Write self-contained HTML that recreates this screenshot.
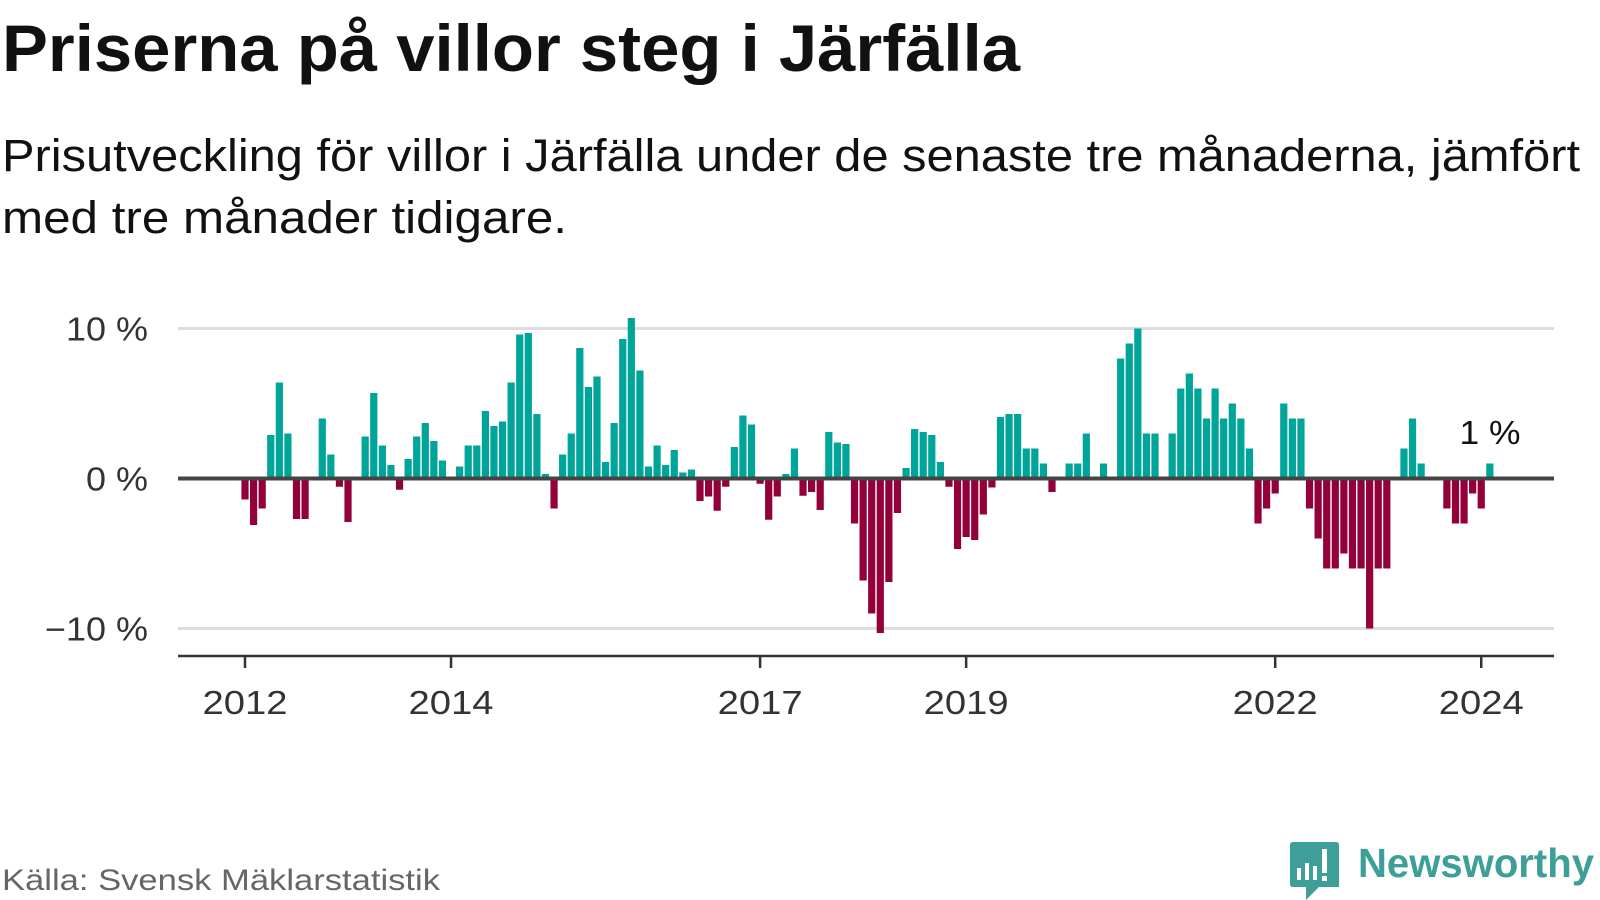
<!DOCTYPE html>
<html><head><meta charset="utf-8"><style>
html,body{margin:0;padding:0;background:#fff;width:1600px;height:900px;overflow:hidden}
svg text{font-family:"Liberation Sans",sans-serif}
</style></head><body>
<svg id="chart" width="1600" height="900" viewBox="0 0 1600 900" xmlns="http://www.w3.org/2000/svg">
<text x="2" y="71" font-size="66" font-weight="bold" fill="#111" textLength="1018" lengthAdjust="spacingAndGlyphs">Priserna på villor steg i Järfälla</text>
<text x="2" y="171" font-size="45" fill="#111" textLength="1578" lengthAdjust="spacingAndGlyphs">Prisutveckling för villor i Järfälla under de senaste tre månaderna, jämfört</text>
<text x="2" y="233" font-size="45" fill="#111" textLength="565" lengthAdjust="spacingAndGlyphs">med tre månader tidigare.</text>
<g id="grid"></g>
<g id="bars"></g>
<g id="axes"></g>
<text x="1490" y="444" font-size="33" fill="#111" text-anchor="middle" textLength="61" lengthAdjust="spacingAndGlyphs">1 %</text>
<text x="2" y="890" font-size="30" fill="#666" textLength="438" lengthAdjust="spacingAndGlyphs">Källa: Svensk Mäklarstatistik</text>
<g>
<path d="M1293 842 H1336 Q1339 842 1339 845 V887 H1319 L1306 900 L1306 887 H1293 Q1290 887 1290 884 V845 Q1290 842 1293 842 Z" fill="#3d9f97"/>
<rect x="1297" y="868" width="4" height="12" fill="#fff"/>
<rect x="1305" y="863" width="4" height="17" fill="#fff"/>
<rect x="1313" y="866" width="4" height="14" fill="#fff"/>
<rect x="1322" y="849" width="5" height="24" fill="#fff"/>
<rect x="1322" y="876" width="5" height="5" fill="#fff"/>
<text x="1358" y="877" font-size="41" font-weight="bold" fill="#3d9f97" textLength="236" lengthAdjust="spacingAndGlyphs">Newsworthy</text>
</g>
</svg>
<script>
const values = [
-1.4,-3.1,-2.0,2.9,6.4,3.0,-2.7,-2.7,0,4.0,1.6,-0.55,
-2.9,0,2.8,5.7,2.2,0.9,-0.75,1.3,2.8,3.7,2.5,1.2,
0,0.8,2.2,2.2,4.5,3.5,3.8,6.4,9.6,9.7,4.3,0.3,
-2.0,1.6,3.0,8.7,6.1,6.8,1.1,3.7,9.3,10.7,7.2,0.8,
2.2,0.9,1.9,0.4,0.6,-1.5,-1.2,-2.15,-0.55,2.1,4.2,3.6,
-0.35,-2.75,-1.2,0.3,2.0,-1.15,-0.9,-2.1,3.1,2.4,2.3,-3.0,
-6.8,-9.0,-10.3,-6.9,-2.3,0.7,3.3,3.1,2.9,1.1,-0.55,-4.7,
-3.9,-4.1,-2.4,-0.6,4.1,4.3,4.3,2.0,2.0,1.0,-0.9,0,
1.0,1.0,3.0,0,1.0,0,8.0,9.0,10.0,3.0,3.0,0,
3.0,6.0,7.0,6.0,4.0,6.0,4.0,5.0,4.0,2.0,-3.0,-2.0,
-1.0,5.0,4.0,4.0,-2.0,-4.0,-6.0,-6.0,-5.0,-6.0,-6.0,-10.0,
-6.0,-6.0,0,2.0,4.0,1.0,0,0,-2.0,-3.0,-3.0,-1.0,
-2.0,1.0
];
const yTicks = [10, 0, -10];
const yTickLabels = ["10 %", "0 %", "\u221210 %"];
const xTickYears = [2012, 2014, 2017, 2019, 2022, 2024];

const NS = "http://www.w3.org/2000/svg";
const X0 = 245, MONTH = 8.585, BW = 7.2;
const Y0 = 478.5, PER = 15;
function xScale(m){ return X0 + MONTH*m; }
function yScale(v){ return Y0 - v*PER; }
function mk(tag, attrs, parent){ const e=document.createElementNS(NS,tag); for(const k in attrs) e.setAttribute(k,attrs[k]); parent.appendChild(e); return e; }

const grid = document.getElementById('grid');
yTicks.forEach((t,i)=>{
  if(t!==0){
    const l = mk('line',{x1:178,x2:1554,y1:yScale(t),y2:yScale(t),stroke:'#dddddd','stroke-width':3},grid);
    
    
  }
  const tx = mk('text',{x:148,y:yScale(t)+12,'font-size':33,fill:'#333','text-anchor':'end'},grid);
  tx.textContent = yTickLabels[i];
  tx.setAttribute('textLength', String(Math.round(yTickLabels[i].length*20.5)));
  tx.setAttribute('lengthAdjust','spacingAndGlyphs');
  
  
});

const bars = document.getElementById('bars');
values.forEach((v,m)=>{
  if(v===0) return;
  const y1 = yScale(Math.max(v,0)), y2 = yScale(Math.min(v,0));
  const r = mk('rect',{x:xScale(m)-BW/2,y:y1,width:BW,height:y2-y1,fill:v>0?'#00a59a':'#93003a'},bars);
  
  
});

const axes = document.getElementById('axes');
const zl = mk('line',{x1:178,x2:1554,y1:Y0,y2:Y0,stroke:'#444','stroke-width':4},axes);


const xl = mk('line',{x1:178,x2:1554,y1:656,y2:656,stroke:'#333','stroke-width':2.5},axes);


xTickYears.forEach(yr=>{
  const x = xScale((yr-2012)*12);
  const tk = mk('line',{x1:x,x2:x,y1:656,y2:668,stroke:'#333','stroke-width':2.5},axes);
  
  
  const t = mk('text',{x:x,y:714,'font-size':33,fill:'#333','text-anchor':'middle',textLength:85,lengthAdjust:'spacingAndGlyphs'},axes);
  t.textContent = String(yr);
  
  
});
</script>
</body></html>
